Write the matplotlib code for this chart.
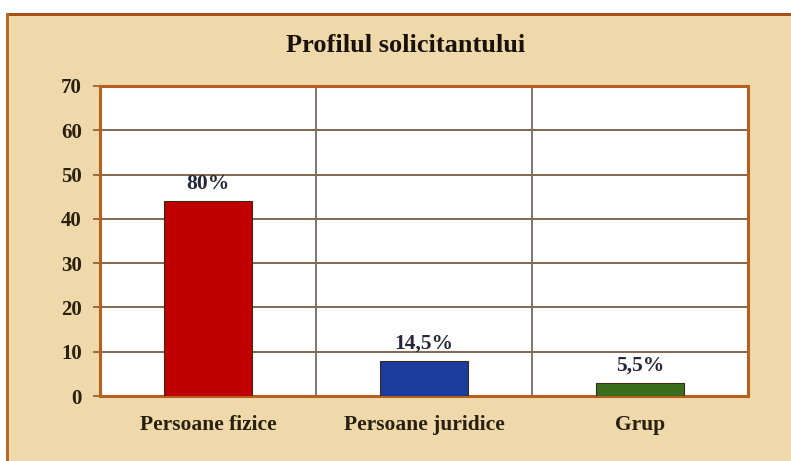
import matplotlib.pyplot as plt
from matplotlib.patches import Rectangle

# date grafic
categorii = ['Persoane fizice', 'Persoane juridice', 'Grup']
valori = [44, 8, 3]
etichete = ['80%', '14,5%', '5,5%']
culori = ['#C00000', '#1A3C9C', '#3B6E1C']

titlu = 'Profilul solicitantului'
yticks = [0, 10, 20, 30, 40, 50, 60, 70]

plt.rcParams['font.family'] = ['Liberation Serif', 'DejaVu Serif']

fig = plt.figure(figsize=(7.91, 4.61), dpi=100)
W, H = 791, 461
fig.patch.set_facecolor('white')

# fundal pergament + rama
fig.patches.append(Rectangle((6 / W, 0), 1, 1 - 13 / H, transform=fig.transFigure,
                             facecolor='#EFD9AA', edgecolor='none', zorder=-3))
fig.patches.append(Rectangle((6 / W, 1 - 16 / H), 1, 3 / H, transform=fig.transFigure,
                             facecolor='#A5521A', edgecolor='none', zorder=-2))
fig.patches.append(Rectangle((6 / W, 0), 3 / W, 1 - 13 / H, transform=fig.transFigure,
                             facecolor='#B8682A', edgecolor='none', zorder=-2))

ax = fig.add_axes([100 / W, 1 - 396 / H, 648 / W, 310 / H])
ax.set_facecolor('white')

x = list(range(len(categorii)))
ax.bar(x, valori, width=0.41, color=culori, edgecolor='#3A2A1A', linewidth=0.8, zorder=3)

for xi, v, lab in zip(x, valori, etichete):
    ax.annotate(lab, (xi, v), xytext=(0, 5), textcoords='offset points',
                ha='center', va='bottom', fontsize=15.5, fontweight='bold',
                color='#26283A', zorder=4)

ax.set_xlim(-0.5, len(categorii) - 0.5)
ax.set_ylim(0, 70)
ax.set_yticks(yticks)
ax.set_xticks(x)
ax.set_xticklabels(categorii, fontsize=15.5, fontweight='bold', color='#2A2010')
for t in ax.get_yticklabels():
    t.set_fontsize(15)
    t.set_fontweight('bold')
    t.set_color('#2A2010')

ax.tick_params(axis='x', length=0, pad=14)
ax.tick_params(axis='y', length=5, width=1.2, color='#8A5A30', pad=8)

# grila
for yv in yticks[1:-1]:
    ax.axhline(yv, color='#7A5A40', linewidth=1.3, zorder=1)
for xv in [0.5, 1.5]:
    ax.axvline(xv, color='#7A6A60', linewidth=1.3, zorder=1)

for s in ax.spines.values():
    s.set_color('#B5601E')
    s.set_linewidth(2.2)

fig.text(406 / W, 1 - 45 / H, titlu, ha='center', va='center',
         fontsize=19, fontweight='bold', color='#1A1208')

fig.savefig('out.png', dpi=100)
